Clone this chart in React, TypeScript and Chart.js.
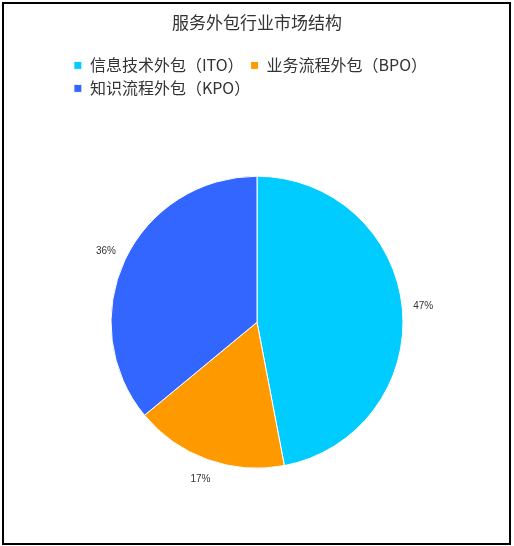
import React, { useEffect, useRef } from "react";
import { Chart, registerables } from "chart.js";

Chart.register(...registerables);

const categories = ["信息技术外包（ITO）", "业务流程外包（BPO）", "知识流程外包（KPO）"];
const shares = [47, 17, 36];
const colors = ["#00CCFF", "#FF9900", "#3366FF"];
const titleText = "服务外包行业市场结构";

const CJK = '"Noto Sans CJK SC", "Noto Sans", sans-serif';

const legendShift = {
  id: "legendShift",
  afterLayout(chart: any) {
    const lg = chart.legend;
    if (!lg || !lg.lineWidths || !lg.lineWidths.length) return;
    const pad = lg.options.labels.padding;
    const lw = lg.lineWidths[0];
    const start = 250.5 - (lw - pad) / 2;
    const w = lg.width;
    lg.left = start - pad;
    lg.right = lg.left + w;
  },
};

const outerLabels = {
  id: "outerLabels",
  afterDatasetsDraw(chart: any) {
    const { ctx } = chart;
    const meta = chart.getDatasetMeta(0);
    const data = chart.data.datasets[0].data as number[];
    ctx.save();
    ctx.font = '10px "Liberation Sans", Arial, sans-serif';
    ctx.fillStyle = "#333";
    ctx.textAlign = "center";
    ctx.textBaseline = "middle";
    meta.data.forEach((arc: any, i: number) => {
      const { x, y, startAngle, endAngle, outerRadius } = arc.getProps(
        ["x", "y", "startAngle", "endAngle", "outerRadius"],
        true
      );
      const mid = (startAngle + endAngle) / 2;
      const r = outerRadius + 21;
      ctx.fillText(data[i] + "%", x + Math.cos(mid) * r, y + Math.sin(mid) * r);
    });
    ctx.restore();
  },
};

export default function App() {
  const ref = useRef<HTMLCanvasElement | null>(null);
  useEffect(() => {
    if (!ref.current) return;
    const chart = new Chart(ref.current, {
      type: "pie",
      data: {
        labels: categories,
        datasets: [
          {
            data: shares,
            backgroundColor: colors,
            borderColor: "#ffffff",
            borderWidth: 1,
          },
        ],
      },
      options: {
        animation: false,
        responsive: false,
        events: [],
        radius: 146,
        layout: { padding: { top: 0, bottom: 8, left: 0, right: 0 } },
        plugins: {
          title: {
            display: true,
            text: titleText,
            color: "#333",
            font: { family: CJK, size: 17, weight: "normal" },
            padding: { top: 12, bottom: 18 },
          },
          legend: {
            display: true,
            position: "top",
            align: "start",
            labels: {
              boxWidth: 8,
              boxHeight: 8,
              padding: 7,
              color: "#333",
              font: { family: CJK, size: 16 },
            },
          },
          tooltip: { enabled: false },
        },
      },
      plugins: [legendShift, outerLabels],
    });
    return () => chart.destroy();
  }, []);

  return (
    <div style={{ position: "absolute", left: 0, top: 0, width: 514, height: 546, background: "#fff" }}>
      <canvas ref={ref} width={514} height={546} style={{ position: "absolute", left: 0, top: 0, width: 514, height: 546 }} />
      <div
        style={{
          position: "absolute",
          left: 2,
          top: 2,
          width: 509,
          height: 543,
          boxSizing: "border-box",
          border: "2px solid #000",
          pointerEvents: "none",
        }}
      />
    </div>
  );
}
